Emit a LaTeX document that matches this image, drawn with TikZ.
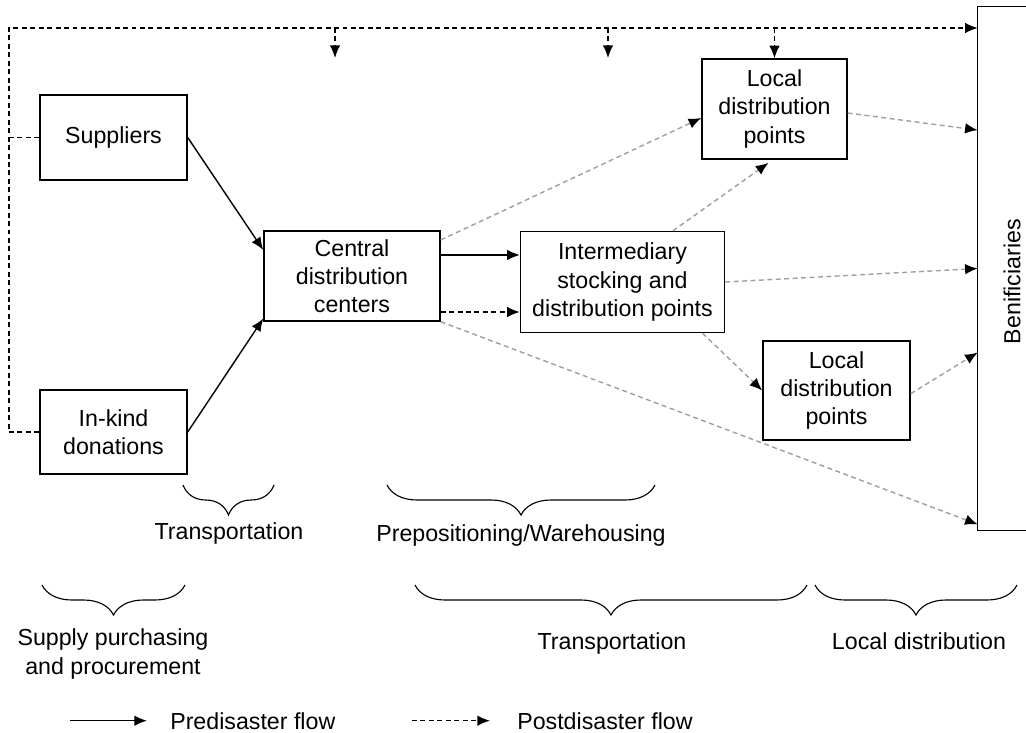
\documentclass[tikz,border=0pt]{standalone}
\usepackage{fontspec}
\setmainfont{Liberation Sans}
\usetikzlibrary{arrows.meta,calc,decorations.pathreplacing}

\def\h{0.025}
\def\punkt#1#2{
	({(#1)*\h},{(-#2)*\h})
}
\tikzset{
	box/.style={draw, line width=1pt, align=center, inner sep=0pt},
	txt/.style={align=center, inner sep=0pt},
	strich/.style={line width=1pt, dash pattern=on 3.5pt off 2.5pt},
	predis/.style={-{Latex[length=9pt,width=7.5pt]}, line width=1pt},
	postdis/.style={strich, -{Latex[length=9pt,width=7.5pt]}},
	postgray/.style={strich, draw=gray!75, -{Latex[length=9pt,width=7.5pt,color=black]}},
	klammer/.style={decorate, decoration={brace, mirror, amplitude=0.75cm}, line width=0.8pt}
}

\begin{document}
\begin{tikzpicture}[font=\fontsize{16.5}{20}\selectfont]
\useasboundingbox \punkt{0}{0} rectangle \punkt{1026}{733};

% boxes
\node[box, minimum width=3.675cm, minimum height=2.125cm] (sup) at \punkt{113.5}{137.5} {Suppliers};
\node[box, minimum width=3.675cm, minimum height=2.1cm] (ink) at \punkt{113.5}{432} {In-kind\\donations};
\node[box, minimum width=4.4cm, minimum height=2.25cm] (cen) at \punkt{352}{276} {Central\\distribution\\centers};
\node[box, minimum width=5.1cm, minimum height=2.525cm] (inter) at \punkt{622.5}{282} {Intermediary\\stocking and\\distribution points};
\node[box, minimum width=3.625cm, minimum height=2.5cm] (loc1) at \punkt{774.5}{109} {Local\\distribution\\points};
\node[box, minimum width=3.675cm, minimum height=2.475cm] (loc2) at \punkt{836.5}{390.5} {Local\\distribution\\points};
\node[minimum width=1.2cm, minimum height=13.075cm, inner sep=0pt] (ben) at \punkt{1002}{268.5} {};
\draw[line width=1pt] (ben.north east) -- (ben.north west) -- (ben.south west) -- (ben.south east);
\node[txt, rotate=90] (bentext) at ($(ben.center)+(0.25,-0.33)$) {Benificiaries};

% postdisaster flow along the top
\path \punkt{9}{28} coordinate (ecke);
\path \punkt{335}{58} coordinate (ab1);
\path \punkt{608}{58} coordinate (ab2);
\draw[strich] (sup.west) -- (sup.west -| ecke);
\draw[postdis] (ink.west) -| (ecke) -- (ecke -| ben.west);
\foreach \n in {ab1,ab2,loc1.north}{
	\draw[postdis] (\n |- ecke) -- (\n);
}

% flows
\draw[predis] (sup.east) -- ($(cen.west)+(0,0.65)$);
\draw[predis] (ink.east) -- ($(cen.south west)+(0,0.08)$);
\draw[predis] ($(cen.east)+(0,0.525)$) coordinate (a) -- (a -| inter.west);
\draw[postdis] ($(cen.east)+(0,-0.9)$) coordinate (b) -- (b -| inter.west);
\draw[postgray] ($(cen.east)+(0,0.9)$) -- ($(loc1.west)+(0,-0.225)$);
\draw[postgray] (cen.south east) -- ($(ben.south west)+(0,0.15)$);
\draw[postgray] ($(inter.north)+(1.26,0)$) -- ($(loc1.south)+(-0.15,-0.08)$);
\draw[postgray] ($(inter.south)+(2.0,0)$) -- (loc2.west);
\draw[postgray] (inter.east) -- (ben.west);
\draw[postgray] ($(loc1.east)+(0,-0.1)$) -- ($(ben.west)+(0,3.46)$);
\draw[postgray] ($(loc2.east)+(0,-0.08)$) -- ($(ben.west)+(0,-2.1)$);

% braces
\draw[klammer] \punkt{183}{485} -- \punkt{274}{485};
\draw[klammer] \punkt{387}{485} -- \punkt{655}{485};
\draw[klammer] \punkt{42}{585} -- \punkt{185}{585};
\draw[klammer] \punkt{415}{585} -- \punkt{807}{585};
\draw[klammer] \punkt{815}{585} -- \punkt{1017}{585};
\node[txt] (trans1) at \punkt{229}{533} {Transportation};
\node[txt] (prepos) at \punkt{521}{535} {Prepositioning/Warehousing};
\node[txt] (supply) at \punkt{113}{654} {Supply purchasing\\and procurement};
\node[txt] (trans2) at \punkt{612}{643} {Transportation};
\node[txt] (locdist) at \punkt{919}{641} {Local distribution};

% legend
\node[txt, anchor=base west] (vor) at \punkt{170}{729} {Predisaster flow};
\node[txt, anchor=base west] (nach) at \punkt{517}{729} {Postdisaster flow};
\path (vor.west) ++(-2.5,0) coordinate (l1);
\path (nach.west) ++(-2.625,0) coordinate (l2);
\draw[predis] (l1) -- ($(vor.west)+(-0.575,0)$);
\draw[postdis] (l2) -- ($(nach.west)+(-0.675,0)$);
\end{tikzpicture}
\end{document}
